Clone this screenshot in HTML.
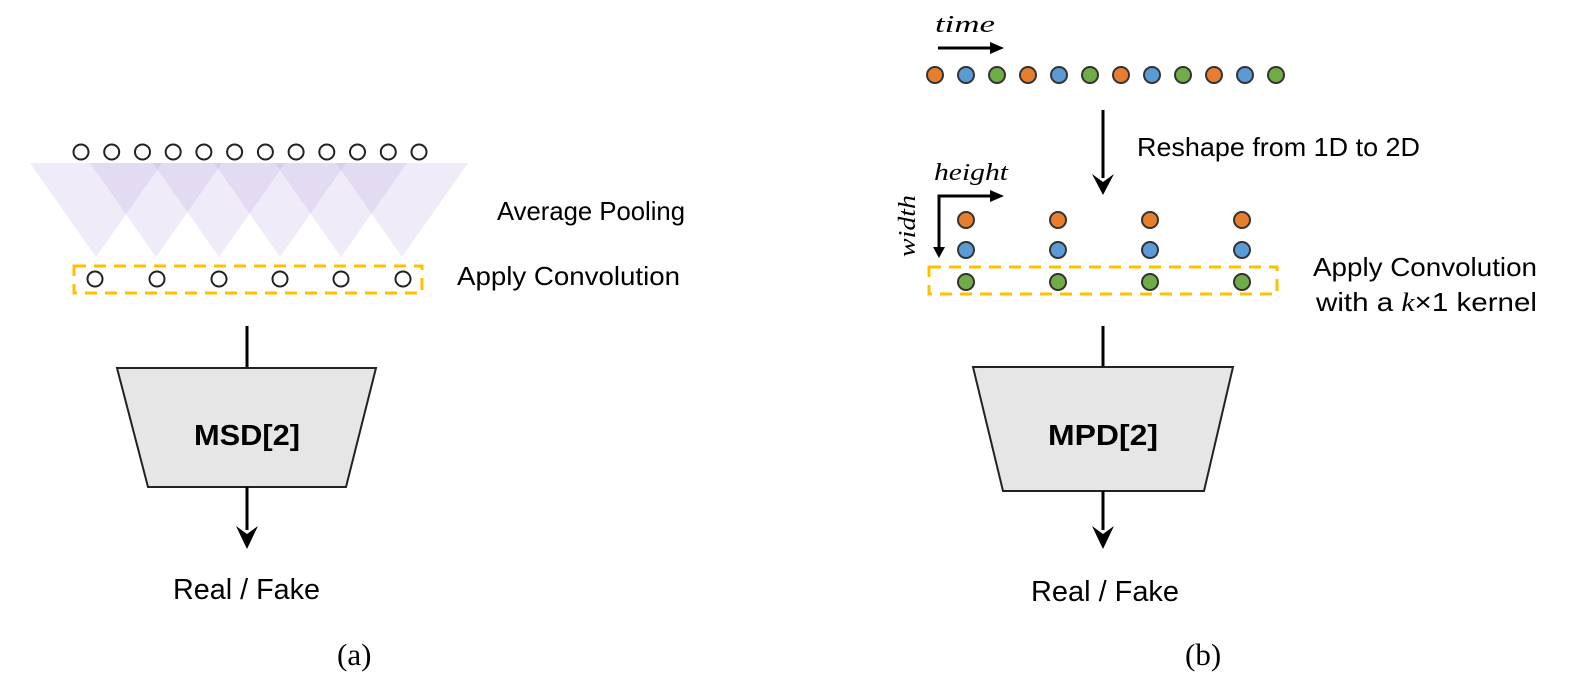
<!DOCTYPE html>
<html><head><meta charset="utf-8"><style>html,body{margin:0;padding:0;background:#fff}svg{display:block}</style></head>
<body>
<svg width="1585" height="686" viewBox="0 0 1585 686" xmlns="http://www.w3.org/2000/svg" font-family="Liberation Sans, sans-serif">
<!-- Left panel triangles -->
<g fill="rgb(175,155,220)" fill-opacity="0.2">
<polygon points="30,163 162,163 96,257"/>
<polygon points="90,163 222,163 156,257"/>
<polygon points="153,163 285,163 219,257"/>
<polygon points="214,163 346,163 280,257"/>
<polygon points="275,163 407,163 341,257"/>
<polygon points="336,163 468,163 402,257"/>
</g>
<g fill="#fff" stroke="#222" stroke-width="2">
<circle cx="81" cy="152" r="7.5"/><circle cx="111.7" cy="152" r="7.5"/><circle cx="142.5" cy="152" r="7.5"/><circle cx="173.2" cy="152" r="7.5"/><circle cx="203.9" cy="152" r="7.5"/><circle cx="234.6" cy="152" r="7.5"/><circle cx="265.4" cy="152" r="7.5"/><circle cx="296.1" cy="152" r="7.5"/><circle cx="326.8" cy="152" r="7.5"/><circle cx="357.5" cy="152" r="7.5"/><circle cx="388.3" cy="152" r="7.5"/><circle cx="419" cy="152" r="7.5"/>
<circle cx="95" cy="279" r="7.5"/><circle cx="157" cy="279" r="7.5"/><circle cx="219" cy="279" r="7.5"/><circle cx="280" cy="279" r="7.5"/><circle cx="341" cy="279" r="7.5"/><circle cx="403" cy="279" r="7.5"/>
</g>
<rect x="74" y="266" width="348" height="27" fill="none" stroke="#FFC000" stroke-width="3" stroke-dasharray="12,8"/>
<text x="497" y="220" font-size="26" textLength="188" lengthAdjust="spacingAndGlyphs">Average Pooling</text>
<text x="457" y="285" font-size="26" textLength="223" lengthAdjust="spacingAndGlyphs">Apply Convolution</text>
<line x1="247" y1="326" x2="247" y2="368" stroke="#000" stroke-width="3"/>
<polygon points="117,368 376,368 346,487 148,487" fill="#e6e6e6" stroke="#222" stroke-width="2"/>
<text x="247" y="445" font-size="29" font-weight="bold" text-anchor="middle" textLength="106" lengthAdjust="spacingAndGlyphs">MSD[2]</text>
<line x1="247" y1="487" x2="247" y2="530" stroke="#000" stroke-width="3"/>
<path d="M236,526 L247,534 L258,526 L247,549 Z" fill="#000"/>
<text x="173" y="599" font-size="29" textLength="147" lengthAdjust="spacingAndGlyphs">Real / Fake</text>
<text x="337" y="665" font-size="31" font-family="Liberation Serif, serif">(a)</text>

<!-- Right panel -->
<text x="935" y="32" font-size="24" font-style="italic" font-family="Liberation Serif, serif" textLength="60" lengthAdjust="spacingAndGlyphs">time</text>
<line x1="938" y1="48" x2="995" y2="48" stroke="#000" stroke-width="3"/>
<path d="M990,42 L1004,48 L990,54 Z" fill="#000"/>
<g stroke="#333" stroke-width="2">
<circle cx="935" cy="75" r="8" fill="#E67E2E"/><circle cx="966" cy="75" r="8" fill="#5B9BD5"/><circle cx="997" cy="75" r="8" fill="#70AD47"/>
<circle cx="1028" cy="75" r="8" fill="#E67E2E"/><circle cx="1059" cy="75" r="8" fill="#5B9BD5"/><circle cx="1090" cy="75" r="8" fill="#70AD47"/>
<circle cx="1121" cy="75" r="8" fill="#E67E2E"/><circle cx="1152" cy="75" r="8" fill="#5B9BD5"/><circle cx="1183" cy="75" r="8" fill="#70AD47"/>
<circle cx="1214" cy="75" r="8" fill="#E67E2E"/><circle cx="1245" cy="75" r="8" fill="#5B9BD5"/><circle cx="1276" cy="75" r="8" fill="#70AD47"/>
</g>
<line x1="1103" y1="110" x2="1103" y2="178" stroke="#000" stroke-width="3"/>
<path d="M1092,174 L1103,182 L1114,174 L1103,195 Z" fill="#000"/>
<text x="1137" y="156" font-size="26" textLength="283" lengthAdjust="spacingAndGlyphs">Reshape from 1D to 2D</text>
<text x="934" y="180" font-size="24" font-style="italic" font-family="Liberation Serif, serif" textLength="74" lengthAdjust="spacingAndGlyphs">height</text>
<path d="M939,253 L939,196 L995,196" fill="none" stroke="#000" stroke-width="3"/>
<path d="M990,190 L1004,196 L990,202 Z" fill="#000"/>
<path d="M933,247 L939,258 L945,247 Z" fill="#000"/>
<text transform="translate(915,226) rotate(-90)" font-size="24" font-style="italic" font-family="Liberation Serif, serif" text-anchor="middle" textLength="62" lengthAdjust="spacingAndGlyphs">width</text>
<g stroke="#333" stroke-width="2">
<circle cx="966" cy="220" r="8" fill="#E67E2E"/><circle cx="1058" cy="220" r="8" fill="#E67E2E"/><circle cx="1150" cy="220" r="8" fill="#E67E2E"/><circle cx="1242" cy="220" r="8" fill="#E67E2E"/>
<circle cx="966" cy="250" r="8" fill="#5B9BD5"/><circle cx="1058" cy="250" r="8" fill="#5B9BD5"/><circle cx="1150" cy="250" r="8" fill="#5B9BD5"/><circle cx="1242" cy="250" r="8" fill="#5B9BD5"/>
<circle cx="966" cy="282" r="8" fill="#70AD47"/><circle cx="1058" cy="282" r="8" fill="#70AD47"/><circle cx="1150" cy="282" r="8" fill="#70AD47"/><circle cx="1242" cy="282" r="8" fill="#70AD47"/>
</g>
<rect x="929" y="267" width="348" height="27" fill="none" stroke="#FFC000" stroke-width="3" stroke-dasharray="12,8"/>
<text x="1313" y="276" font-size="26" textLength="224" lengthAdjust="spacingAndGlyphs">Apply Convolution</text>
<text x="1316" y="311" font-size="26" textLength="221" lengthAdjust="spacingAndGlyphs">with a <tspan font-style="italic" font-family="Liberation Serif, serif">k</tspan>×1 kernel</text>
<line x1="1103" y1="326" x2="1103" y2="367" stroke="#000" stroke-width="3"/>
<polygon points="973,367 1233,367 1204,491 1003,491" fill="#e6e6e6" stroke="#222" stroke-width="2"/>
<text x="1103" y="445" font-size="29" font-weight="bold" text-anchor="middle" textLength="110" lengthAdjust="spacingAndGlyphs">MPD[2]</text>
<line x1="1103" y1="491" x2="1103" y2="530" stroke="#000" stroke-width="3"/>
<path d="M1092,526 L1103,534 L1114,526 L1103,549 Z" fill="#000"/>
<text x="1031" y="601" font-size="29" textLength="148" lengthAdjust="spacingAndGlyphs">Real / Fake</text>
<text x="1185" y="665" font-size="31" font-family="Liberation Serif, serif">(b)</text>
</svg>
</body></html>
